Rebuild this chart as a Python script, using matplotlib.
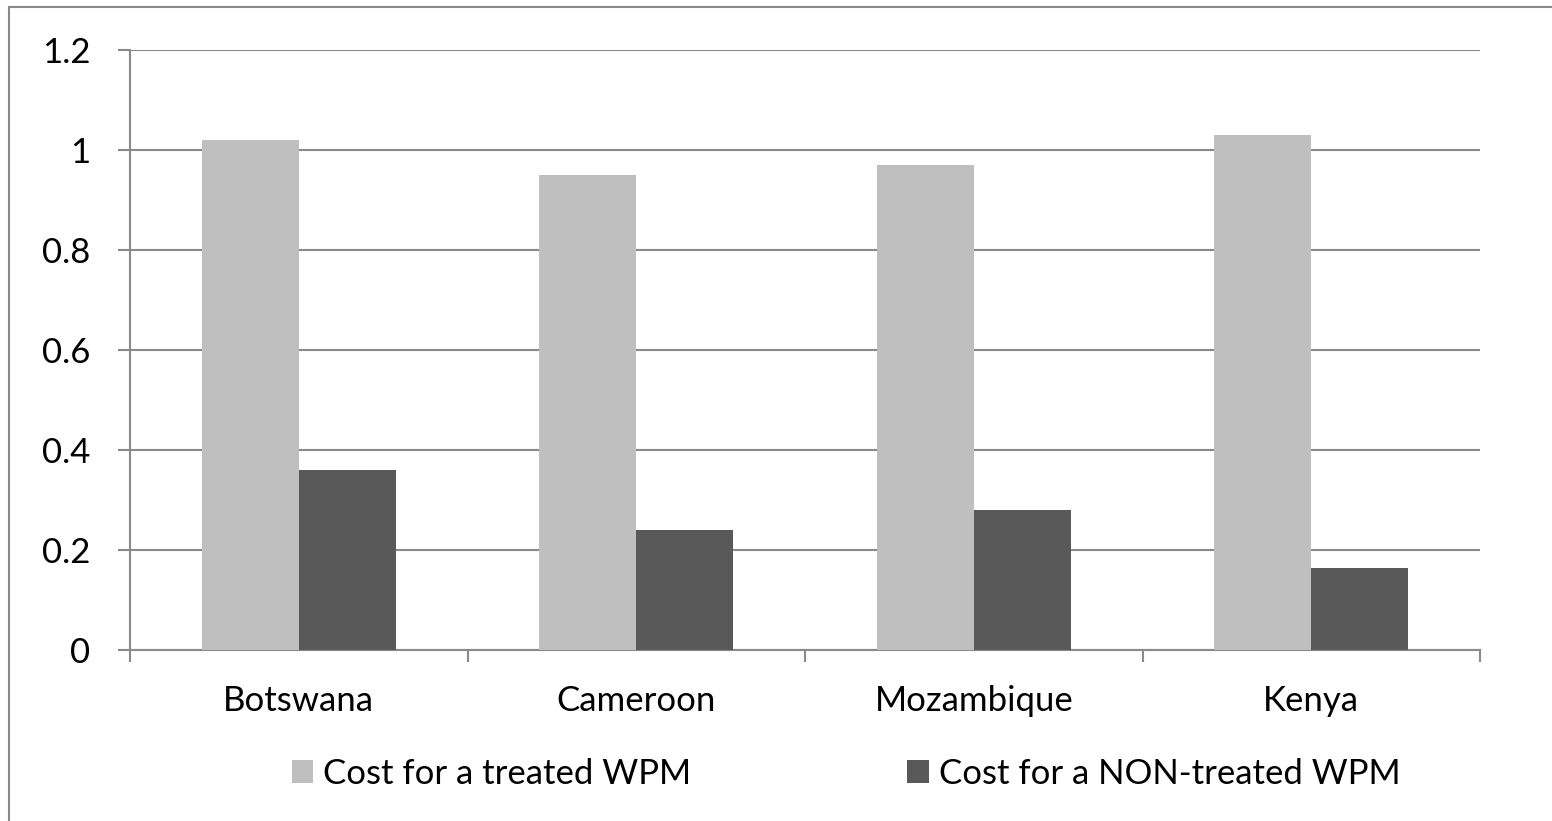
import matplotlib.pyplot as plt
import numpy as np
from matplotlib.patches import Rectangle

countries = ['Botswana', 'Cameroon', 'Mozambique', 'Kenya']
treated = [1.02, 0.95, 0.97, 1.03]
non_treated = [0.36, 0.24, 0.28, 0.165]
series_names = ['Cost for a treated WPM', 'Cost for a NON-treated WPM']
yticks = [0, 0.2, 0.4, 0.6, 0.8, 1.0, 1.2]
ytick_labels = ['0', '0.2', '0.4', '0.6', '0.8', '1', '1.2']

plt.rcParams['font.family'] = ['Lato', 'DejaVu Sans']
grid_col = '#8a8a8a'
fs = 25

fig = plt.figure(figsize=(15.52, 8.21), dpi=100)
ax = fig.add_axes([130 / 1552, 1 - 650 / 821, 1350 / 1552, 600 / 821])

x = np.arange(len(countries))
w = 0.287
ax.bar(x - w / 2, treated, w, color='#bfbfbf', label=series_names[0], zorder=3)
ax.bar(x + w / 2, non_treated, w, color='#595959', label=series_names[1], zorder=3)

ax.set_xlim(-0.5, len(countries) - 0.5)
ax.set_ylim(0, 1.2)
ax.set_yticks(yticks)
ax.set_yticklabels(ytick_labels, fontsize=fs)
ax.set_xticks(x)
ax.set_xticklabels(countries, fontsize=fs)
ax.set_xticks(np.arange(len(countries) + 1) - 0.5, minor=True)

ax.yaxis.grid(True, color=grid_col, linewidth=1.5, zorder=0)
ax.tick_params(axis='y', length=8.5, width=1.5, color=grid_col, pad=20)
ax.tick_params(axis='x', which='major', length=0, pad=25)
ax.tick_params(axis='x', which='minor', length=8.5, width=1.5, color=grid_col)

for s in ['top', 'right']:
    ax.spines[s].set_visible(False)
for s in ['left', 'bottom']:
    ax.spines[s].set_color(grid_col)
    ax.spines[s].set_linewidth(1.5)

fig.legend(loc='center', bbox_to_anchor=(846 / 1552, 1 - 774 / 821), ncol=2, frameon=False,
           fontsize=fs, handlelength=0.63, handleheight=0.63, handletextpad=0.29,
           columnspacing=6.2)

fig.patches.append(Rectangle((9 / 1552, -0.05), 1.1, 1.05 - 7 / 821, transform=fig.transFigure,
                             fill=False, edgecolor='#898989', linewidth=1.5))

fig.savefig('out.png', dpi=100)
